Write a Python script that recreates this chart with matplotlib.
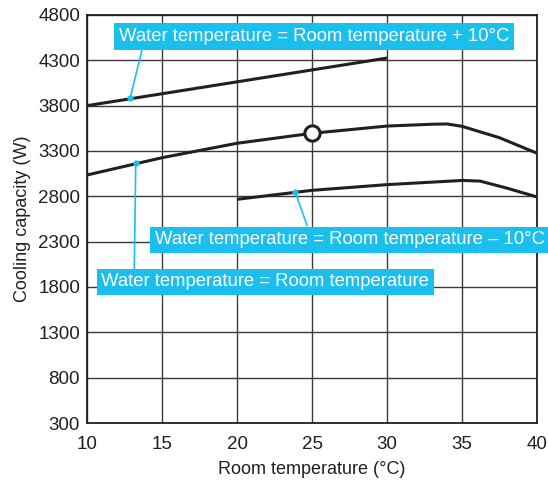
import matplotlib
matplotlib.use("Agg")
import matplotlib.pyplot as plt

# readings from the chart
room_temp_plus10 = [10, 30]
cap_plus10 = [3800, 4325]

room_temp_equal = [10, 15, 20, 25, 30, 33, 34, 35, 37.5, 40]
cap_equal = [3035, 3226, 3385, 3495, 3575, 3595, 3598, 3572, 3446, 3275]

room_temp_minus10 = [20, 25, 30, 35, 36.2, 38, 40]
cap_minus10 = [2767, 2866, 2929, 2975, 2968, 2890, 2793]

rated_point = (25, 3495)

x_ticks = [10, 15, 20, 25, 30, 35, 40]
y_ticks = [300, 800, 1300, 1800, 2300, 2800, 3300, 3800, 4300, 4800]

label_plus10 = "Water temperature = Room temperature + 10°C"
label_equal = "Water temperature = Room temperature"
label_minus10 = "Water temperature = Room temperature – 10°C"

cyan = "#1bbfee"
ink = "#231f20"
plt.rcParams['font.family'] = ['Liberation Sans', 'DejaVu Sans']

fig = plt.figure(figsize=(5.48, 4.83), dpi=100)
ax = fig.add_axes([0.1588, 0.1242, 0.8212, 0.8448])

ax.set_xlim(10, 40)
ax.set_ylim(300, 4800)
ax.set_xticks(x_ticks)
ax.set_yticks(y_ticks)
ax.tick_params(length=0, labelsize=13.5, colors=ink)
ax.tick_params(axis="y", pad=5)
ax.tick_params(axis="x", pad=9)
ax.grid(True, color="#3a3a3a", linewidth=1.0)
ax.set_axisbelow(True)
for s in ax.spines.values():
    s.set_color(ink)
    s.set_linewidth(1.3)

ax.set_xlabel("Room temperature (°C)", fontsize=13, color=ink, labelpad=6)
ax.set_ylabel("Cooling capacity (W)", fontsize=13, color=ink, labelpad=5)

line_kw = dict(color=ink, linewidth=2.2, solid_capstyle="butt", zorder=3)
ax.plot(room_temp_plus10, cap_plus10, **line_kw)
ax.plot(room_temp_equal, cap_equal, **line_kw)
ax.plot(room_temp_minus10, cap_minus10, **line_kw)
ax.plot(*rated_point, marker="o", markersize=11, markerfacecolor="white",
        markeredgecolor=ink, markeredgewidth=2.2, zorder=5)

box = dict(boxstyle="square,pad=0.25", facecolor=cyan, edgecolor="none")
text_kw = dict(fontsize=13.3, color="white", ha="left", va="center", bbox=box, zorder=6)

# pointer lines and dots
pointers = [
    ((12.87, 3880), (13.67, 4420)),
    ((13.25, 3168), (13.15, 2000)),
    ((23.87, 2850), (24.67, 2480)),
]
for (x0, y0), (x1, y1) in pointers:
    ax.plot([x0, x1], [y0, y1], color=cyan, linewidth=1.2, zorder=4)
    ax.plot(x0, y0, marker="o", markersize=3.5, color=cyan, zorder=4)

ax.text(12.1, 4563, label_plus10, **text_kw)
ax.text(10.95, 1856, label_equal, **text_kw)
ax.text(14.5, 2319, label_minus10, clip_on=False, **text_kw)

fig.savefig("out.png", dpi=100)
